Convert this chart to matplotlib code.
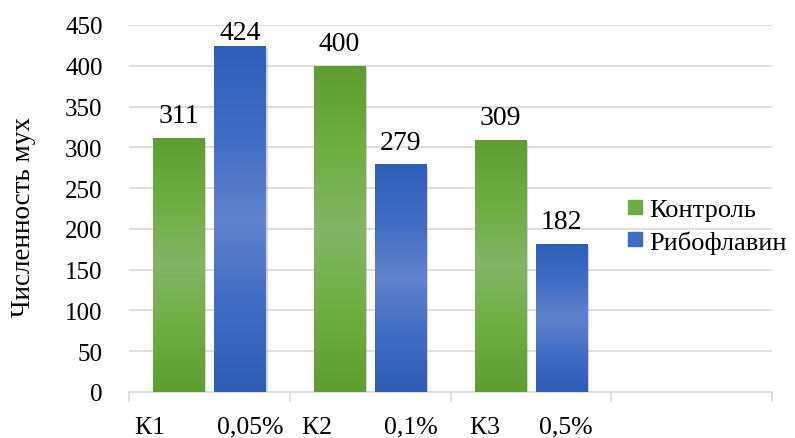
import numpy as np
import matplotlib
matplotlib.use("Agg")
import matplotlib.pyplot as plt
from matplotlib.colors import LinearSegmentedColormap
from matplotlib.lines import Line2D
from matplotlib import patheffects as pe

# ---- data ----
categories = ["К1        0,05%", "К2        0,1%", "К3      0,5%", ""]
control = [311, 400, 309]
riboflavin = [424, 279, 182]
series_names = ["Контроль", "Рибофлавин"]
y_ticks = [0, 50, 100, 150, 200, 250, 300, 350, 400, 450]

plt.rcParams['font.family'] = ['Liberation Serif', 'DejaVu Serif']

fig = plt.figure(figsize=(7.95, 4.39), dpi=100)
ax = fig.add_axes([129/795, 1-393/439, (772-129)/795, (393-26)/439])

green_cmap = LinearSegmentedColormap.from_list("g", ["#5E9D30", "#6EAE40", "#82B565", "#6EAE40", "#5E9D30"])
blue_cmap = LinearSegmentedColormap.from_list("b", ["#2E5DB5", "#3F6CC4", "#6282CC", "#3F6CC4", "#2E5FBA"])

bw = 0.318
off = 0.19
grad = np.linspace(0, 1, 256).reshape(-1, 1)

def draw_bars(xs, vals, cmap, base):
    bars = ax.bar(xs, vals, width=bw, color=base, zorder=3,
                  path_effects=[pe.SimplePatchShadow(offset=(1.5, -1.5), shadow_rgbFace='#888888', alpha=0.35),
                                pe.Normal()])
    for b in bars:
        x0 = b.get_x(); x1 = x0 + b.get_width(); h = b.get_height()
        im = ax.imshow(grad, cmap=cmap, extent=[x0, x1, 0, h], aspect='auto',
                       origin='lower', zorder=4, interpolation='bilinear')
        im.set_clip_path(b)
    return bars

n = len(control)
idx = np.arange(n)
b1 = draw_bars(idx - off, control, green_cmap, "#6EAE40")
b2 = draw_bars(idx + off, riboflavin, blue_cmap, "#3F6CC4")

label_cap = 433
for bars, vals in ((b1, control), (b2, riboflavin)):
    for b, v in zip(bars, vals):
        ax.text(b.get_x() + b.get_width()/2, min(v + 19.5, label_cap), str(v),
                ha='center', va='baseline', fontsize=20, zorder=5)

ax.set_xlim(-0.5, len(categories) - 0.5)
ax.set_ylim(0, 450)
ax.set_yticks(y_ticks)
ax.tick_params(axis='y', length=0, labelsize=18, pad=19)
ax.yaxis.grid(True, color='#D9D9D9', linewidth=1.2, zorder=0)
ax.set_axisbelow(True)

ax.set_xticks(np.arange(len(categories)))
ax.set_xticklabels(categories)
ax.set_xticks(np.arange(len(categories) + 1) - 0.5, minor=True)
ax.tick_params(axis='x', which='major', length=0, labelsize=18.5, pad=17)
ax.tick_params(axis='x', which='minor', length=7, width=1.2, color='#D9D9D9')

for s in ('left', 'right', 'top'):
    ax.spines[s].set_visible(False)
ax.spines['bottom'].set_color('#D9D9D9')
ax.spines['bottom'].set_linewidth(1.2)

ax.set_ylabel("Численность мух", fontsize=19.5)
ax.yaxis.set_label_coords(-(129-36)/643, 0.48)

handles = [Line2D([], [], marker='s', linestyle='none', markersize=9.5, color='#6EAE40'),
           Line2D([], [], marker='s', linestyle='none', markersize=9.5, color='#3F6CC4')]
fig.legend(handles, series_names, loc='center left', bbox_to_anchor=(628/795, 1-226.5/439),
           frameon=False, fontsize=19, handlelength=0.55, handletextpad=0.25,
           labelspacing=0.35, borderpad=0, borderaxespad=0)

fig.savefig("out.png", dpi=100)
